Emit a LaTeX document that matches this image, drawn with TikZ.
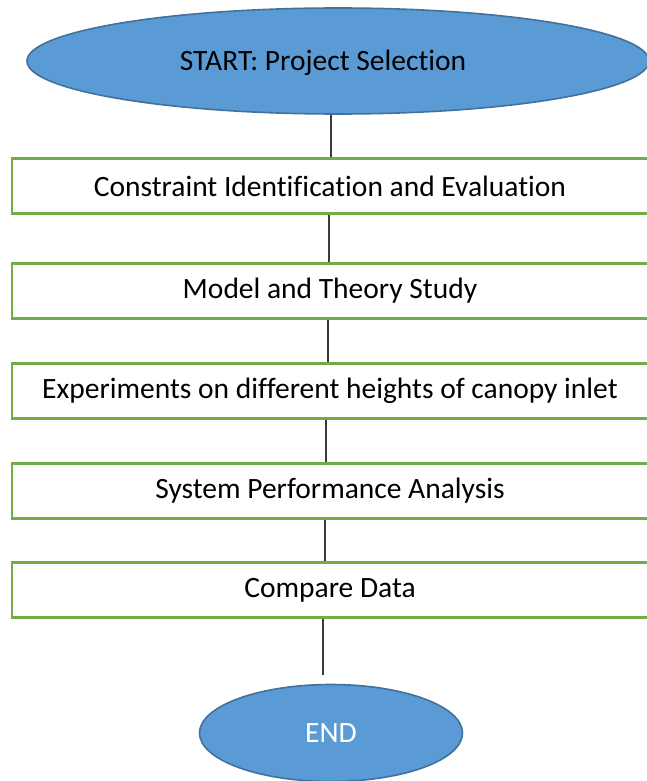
\documentclass[tikz,border=0pt]{standalone}
\usepackage{fontspec}
\setmainfont[Ligatures=CommonOff]{Carlito}
\usetikzlibrary{shapes.geometric}
\definecolor{ovalFill}{HTML}{5B9BD5}
\definecolor{ovalLine}{HTML}{41719C}
\definecolor{boxGreen}{HTML}{70AD47}
\definecolor{lineGray}{HTML}{3A3A3A}

\begin{document}
\begin{tikzpicture}[x=1pt, y=-1pt, every node/.style={font=\fontsize{29.5}{34}\selectfont},
  oval/.style={ellipse,draw=ovalLine,fill=ovalFill,line width=1.6pt,inner sep=0pt},
  stepbox/.style={draw=boxGreen,line width=2.6pt,fill=white,
                  minimum width=636pt,minimum height=55pt,inner sep=0pt},
  link/.style={lineGray,line width=1.1pt}]
\useasboundingbox (0,0) rectangle (646,781);
\node[oval,minimum width=622pt,minimum height=106pt,
      label={[xshift=-15pt,yshift=-2pt]center:START: Project Selection}] (start) at (338,61) {};
\node[stepbox] (b1) at (330,186) {Constraint Identification and Evaluation};
\node[stepbox] (b2) at (330,291) {Model and Theory Study};
\node[stepbox] (b3) at (330,391) {Experiments on different heights of canopy inlet};
\node[stepbox] (b4) at (330,491) {System Performance Analysis};
\node[stepbox] (b5) at (330,590) {Compare Data};
\node[oval,minimum width=263pt,minimum height=97pt,text=white] (stop) at (331,733) {END};
\foreach \a/\b/\x in {start/b1/331, b1/b2/329, b2/b3/328, b3/b4/326, b4/b5/325}
  \draw[link] (\a.south -| \x,0) -- (\b.north -| \x,0);
\draw[link,shorten >=9pt] (b5.south -| 323,0) -- (stop.north -| 323,0);
\end{tikzpicture}
\end{document}
